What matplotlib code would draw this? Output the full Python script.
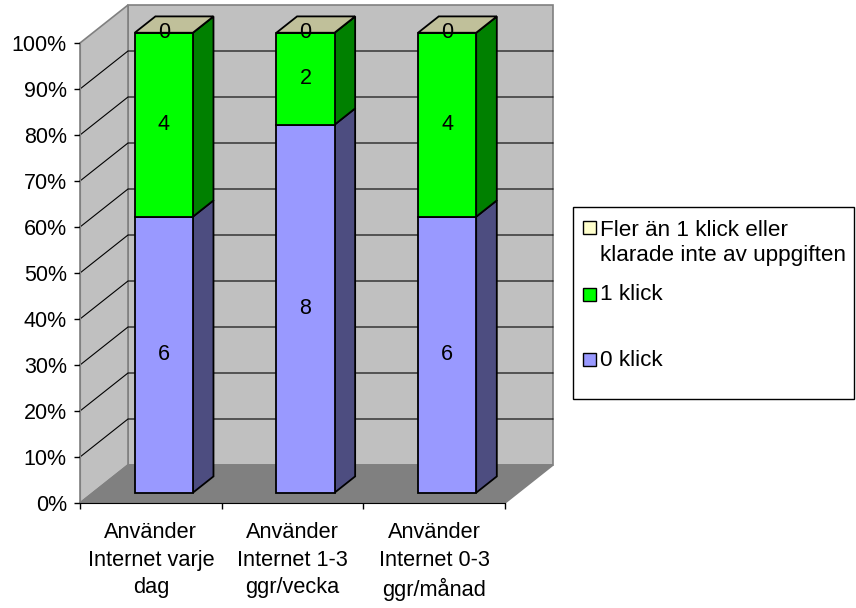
import matplotlib
matplotlib.use("Agg")
import matplotlib.pyplot as plt
from matplotlib.patches import Polygon, Rectangle
import numpy as np

plt.rcParams['font.family'] = ['Liberation Sans', 'DejaVu Sans']

categories = ["Använder\nInternet varje\ndag",
              "Använder\nInternet 1-3\nggr/vecka",
              "Använder\nInternet 0-3\nggr/månad"]
noll_klick = [6, 8, 6]
ett_klick = [4, 2, 4]
fler_klick = [0, 0, 0]
series_names = ["0 klick", "1 klick", "Fler än 1 klick eller\nklarade inte av uppgiften"]
y_ticks = list(range(0, 101, 10))

front_cols = ['#9999FF', '#00FF00', '#FFFFCC']
side_cols = ['#4D4D80', '#008000', '#80806A']
top_col = '#C0C09A'

W, H = 856, 608
fig = plt.figure(figsize=(W/100, H/100), dpi=100)
ax = fig.add_axes([80/W, 105/H, 425/W, 460/H])
n = len(categories)
ax.set_xlim(0, n)
ax.set_ylim(0, 100)

# oblique depth offset (48 px right, 38 px up for full depth)
DX = 48/425*n
DY = 38/460*100

def P(x, y, t):
    return (x + t*DX, y + t*DY)

def face(pts, fc, ec, lw, z):
    ax.add_patch(Polygon(pts, closed=True, fc=fc, ec=ec, lw=lw, zorder=z,
                         clip_on=False, joinstyle='miter'))

# walls + floor
face([P(0, 0, 1), P(n, 0, 1), P(n, 100, 1), P(0, 100, 1)], '#C0C0C0', '#808080', 1.2, 1)
face([P(0, 0, 0), P(0, 0, 1), P(0, 100, 1), P(0, 100, 0)], '#C0C0C0', '#808080', 1.2, 1)
face([P(0, 0, 0), P(n, 0, 0), P(n, 0, 1), P(0, 0, 1)], '#808080', '#808080', 1.2, 1)
for v in y_ticks[1:-1]:
    xs, ys = zip(P(0, v, 0), P(0, v, 1), P(n, v, 1))
    ax.plot(xs, ys, color='black', lw=0.8, zorder=2, clip_on=False)

# bars
t0, t1 = 0.27, 0.70
bw = 0.41
for i in range(n):
    vals = [noll_klick[i], ett_klick[i], fler_klick[i]]
    pct = np.array(vals) / sum(vals) * 100
    bottoms = np.concatenate([[0], np.cumsum(pct)[:-1]])
    x0, x1 = i + 0.5 - bw/2, i + 0.5 + bw/2
    for k in range(len(vals)):
        y0, y1 = bottoms[k], bottoms[k] + pct[k]
        face([P(x1, y0, t0), P(x1, y0, t1), P(x1, y1, t1), P(x1, y1, t0)],
             side_cols[k], 'black', 1.3, 3)
        face([P(x0, y0, t0), P(x1, y0, t0), P(x1, y1, t0), P(x0, y1, t0)],
             front_cols[k], 'black', 1.3, 3)
    ytop = bottoms[-1] + pct[-1]
    face([P(x0, ytop, t0), P(x1, ytop, t0), P(x1, ytop, t1), P(x0, ytop, t1)],
         top_col, 'black', 1.3, 3)
    for k in range(len(vals)):
        tx, ty = P(i + 0.5, bottoms[k] + pct[k]/2, t0)
        ax.text(tx, ty, str(vals[k]), ha='center', va='center', fontsize=15.5, zorder=5)

# axes
ax.set_yticks(y_ticks)
ax.yaxis.set_major_formatter(lambda v, p: f'{v:.0f}%')
ax.set_xticks(range(n + 1))
ax.set_xticklabels([])
ax.set_xticks(np.arange(n) + 0.5, minor=True)
ax.set_xticklabels(categories, minor=True, linespacing=1.38)
ax.tick_params(which='major', direction='out', length=4.5, width=1, labelsize=15.5, pad=5)
ax.tick_params(axis='x', which='minor', length=0, pad=14, labelsize=15.7)
for s in ['top', 'right']:
    ax.spines[s].set_visible(False)
ax.spines['left'].set_color('#808080')
ax.spines['bottom'].set_color('black')

# legend, drawn by hand to keep Excel's uneven spacing
def fx(x):
    return x / W

def fy(y):
    return 1 - y / H

fig.patches.append(Rectangle((fx(573), fy(399)), (854-573)/W, (399-207)/H,
                             transform=fig.transFigure, fc='white', ec='black', lw=1))
entries = [(series_names[2], front_cols[2], 228, 243),
           (series_names[1], front_cols[1], 295, 295),
           (series_names[0], front_cols[0], 360, 360)]
for name, col, ysq, ytxt in entries:
    fig.patches.append(Rectangle((fx(583), fy(ysq + 6)), 13/W, 13/H,
                                 transform=fig.transFigure, fc=col, ec='black', lw=1))
    fig.text(fx(600), fy(ytxt), name, ha='left', va='center', fontsize=16.2,
             linespacing=1.2)

fig.savefig('out.png', dpi=100)
